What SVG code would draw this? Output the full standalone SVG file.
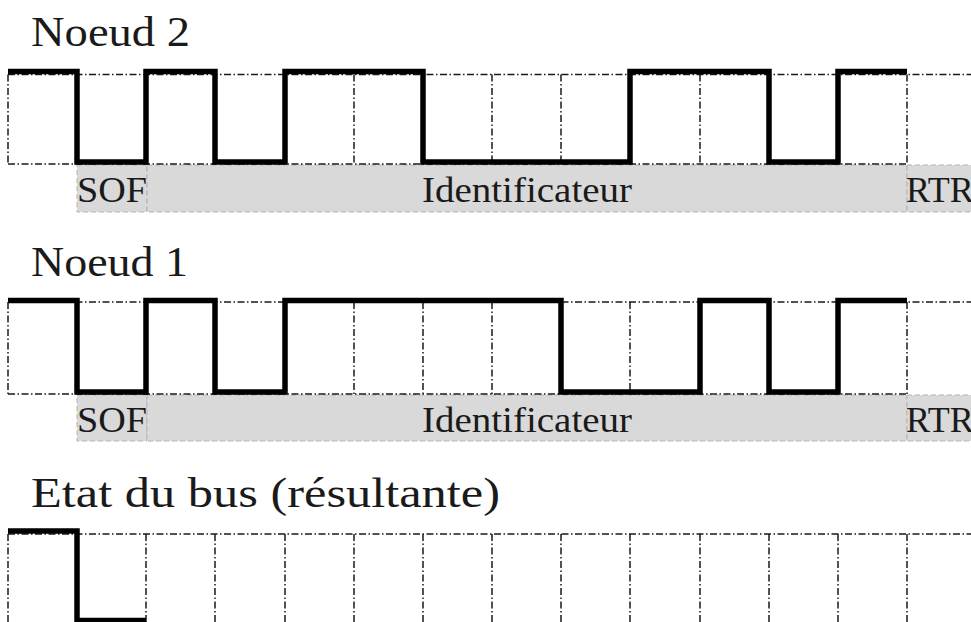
<svg xmlns="http://www.w3.org/2000/svg" width="971" height="622" viewBox="0 0 971 622">
<style>
.bg{fill:#fff}
.title{font-family:"Liberation Serif","Times New Roman",serif;font-size:42px;fill:#1a1a1a}
.lbl{font-family:"Liberation Serif","Times New Roman",serif;font-size:36px;fill:#1a1a1a}
.grid{fill:none;stroke:#1a1a1a;stroke-width:1.5;stroke-dasharray:7 2.5 1.5 2.5}
.box{fill:#d9d9d9;stroke:#b3b3b3;stroke-width:1;stroke-dasharray:5 3}
.sig{fill:none;stroke:#000;stroke-width:5.5;stroke-linejoin:miter;stroke-linecap:butt}
</style>
<rect class="bg" x="0" y="0" width="971" height="622"/>

<g id="noeud2">
  <text class="title" x="31" y="46" textLength="159" lengthAdjust="spacingAndGlyphs">Noeud 2</text>
  <rect class="box" x="77" y="165" width="70" height="47"/>
  <rect class="box" x="147" y="165" width="760" height="47"/>
  <rect class="box" x="907" y="165" width="80" height="47"/>
  <path class="grid" d="M8,74.5 H971 M8,164 H907 M8,74.5 V164 M77,74.5 V164 M146,74.5 V164 M215,74.5 V164 M285,74.5 V164 M354,74.5 V164 M423,74.5 V164 M492,74.5 V164 M561,74.5 V164 M630,74.5 V164 M700,74.5 V164 M769,74.5 V164 M838,74.5 V164 M907,74.5 V164"/>
  <path class="sig" d="M8,71.5 H77 V162 H146 V71.5 H215 V162 H285 V71.5 H423 V162 H630 V71.5 H769 V162 H838 V71.5 H907"/>
  <text class="lbl" x="77" y="202" textLength="70" lengthAdjust="spacingAndGlyphs">SOF</text>
  <text class="lbl" x="422" y="202" textLength="210" lengthAdjust="spacingAndGlyphs">Identificateur</text>
  <text class="lbl" x="906" y="202">RTR</text>
</g>

<g id="noeud1">
  <text class="title" x="31" y="276" textLength="157" lengthAdjust="spacingAndGlyphs">Noeud 1</text>
  <rect class="box" x="77" y="395" width="70" height="46"/>
  <rect class="box" x="147" y="395" width="760" height="46"/>
  <rect class="box" x="907" y="395" width="80" height="46"/>
  <path class="grid" d="M8,302 H971 M8,394 H907 M8,302 V394 M77,302 V394 M146,302 V394 M215,302 V394 M285,302 V394 M354,302 V394 M423,302 V394 M492,302 V394 M561,302 V394 M630,302 V394 M700,302 V394 M769,302 V394 M838,302 V394 M907,302 V394"/>
  <path class="sig" d="M8,300.5 H77 V392 H146 V300.5 H215 V392 H285 V300.5 H561 V392 H700 V300.5 H769 V392 H838 V300.5 H907"/>
  <text class="lbl" x="77" y="432" textLength="70" lengthAdjust="spacingAndGlyphs">SOF</text>
  <text class="lbl" x="422" y="432" textLength="210" lengthAdjust="spacingAndGlyphs">Identificateur</text>
  <text class="lbl" x="906" y="432">RTR</text>
</g>

<g id="bus">
  <text class="title" x="31" y="507" textLength="469" lengthAdjust="spacingAndGlyphs">Etat du bus (résultante)</text>
  <path class="grid" d="M8,534 H971 M8,534 V630 M77,534 V630 M146,534 V630 M215,534 V630 M285,534 V630 M354,534 V630 M423,534 V630 M492,534 V630 M561,534 V630 M630,534 V630 M700,534 V630 M769,534 V630 M838,534 V630 M907,534 V630"/>
  <path class="sig" d="M8,531 H77 V620.5 H146"/>
</g>

<g id="connectors"></g>
</svg>
